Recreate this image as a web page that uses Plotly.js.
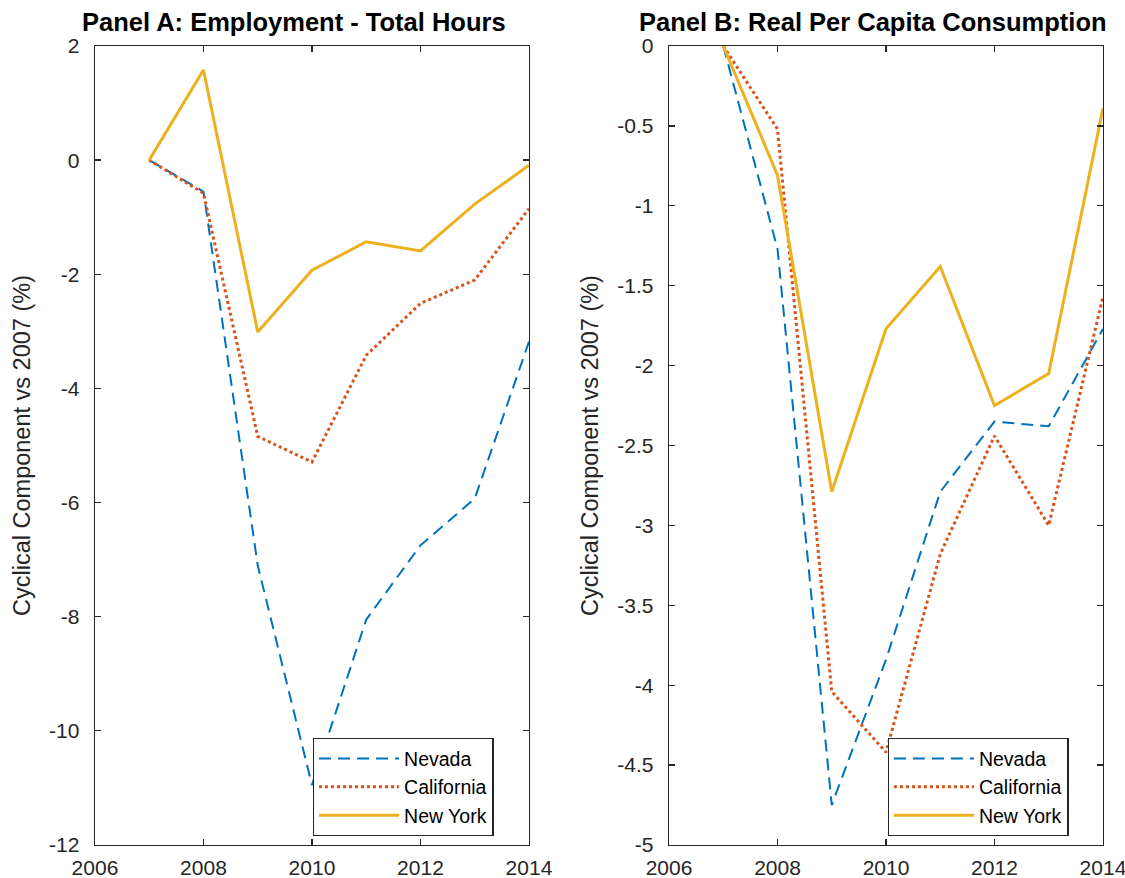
<!DOCTYPE html>
<html>
<head>
<meta charset="utf-8">
<script src="https://cdn.plot.ly/plotly-3.0.1.min.js"></script>
<style>html,body{margin:0;padding:0;background:#fff;}#chart{width:1125px;height:878px;}</style>
</head>
<body>
<div id="chart"></div>
<script>
const years = [2007, 2008, 2009, 2010, 2011, 2012, 2013, 2014];
const seriesNames = ["Nevada", "California", "New York"];

// Panel A: Employment - Total Hours (cyclical component vs 2007, %)
const hoursNevada     = [0, -0.55, -7.1, -10.95, -8.05, -6.75, -5.93, -3.18];
const hoursCalifornia = [0, -0.58, -4.84, -5.29, -3.42, -2.51, -2.10, -0.85];
const hoursNewYork    = [0, 1.58, -3.01, -1.93, -1.43, -1.59, -0.77, -0.09];

// Panel B: Real Per Capita Consumption (cyclical component vs 2007, %)
const consNevada     = [0, -1.27, -4.75, -3.84, -2.79, -2.35, -2.38, -1.77];
const consCalifornia = [0, -0.52, -4.04, -4.42, -3.18, -2.44, -3.00, -1.57];
const consNewYork    = [0, -0.81, -2.79, -1.77, -1.38, -2.25, -2.05, -0.39];

const panelTitles = ["Panel A: Employment - Total Hours", "Panel B: Real Per Capita Consumption"];
const yTitle = "Cyclical Component vs 2007 (%)";
const xTicks = [2006, 2008, 2010, 2012, 2014];
const yTicksA = [-12, -10, -8, -6, -4, -2, 0, 2];
const yTicksB = [-5, -4.5, -4, -3.5, -3, -2.5, -2, -1.5, -1, -0.5, 0];

const colors = ["#0072BD", "#D95319", "#EDB120"];
const dashes = ["12px,7px", "3px,3px", "solid"];
const FONT = "Liberation Sans, Arial, Helvetica, sans-serif";
const AX = "#262626";

function mk(y, i, xa, ya, lg) {
  return {x: years, y: y, name: seriesNames[i], type: "scatter", mode: "lines",
    xaxis: xa, yaxis: ya, legend: lg,
    line: {color: colors[i], width: i === 0 ? 2 : 3, dash: dashes[i]}};
}

const data = [
  mk(hoursNevada, 0, "x", "y", "legend"),
  mk(hoursCalifornia, 1, "x", "y", "legend"),
  mk(hoursNewYork, 2, "x", "y", "legend"),
  mk(consNevada, 0, "x2", "y2", "legend2"),
  mk(consCalifornia, 1, "x2", "y2", "legend2"),
  mk(consNewYork, 2, "x2", "y2", "legend2")
];

function xaxis(dom, anchor) {
  return {domain: dom, anchor: anchor, range: [2006, 2014], tickvals: xTicks,
    ticktext: xTicks.map(String), ticks: "inside", ticklen: 6, tickwidth: 1.3, tickcolor: AX,
    showline: true, linecolor: AX, linewidth: 1.3, mirror: "ticks", showgrid: false, zeroline: false,
    ticklabeloverflow: "allow", ticklabelstandoff: 4,
    tickfont: {family: FONT, size: 21, color: AX}};
}
function yaxis(dom, anchor, rng, tv) {
  return {domain: dom, anchor: anchor, range: rng, tickvals: tv, ticktext: tv.map(String),
    ticks: "inside", ticklen: 6, tickwidth: 1.3, tickcolor: AX,
    showline: true, linecolor: AX, linewidth: 1.3, mirror: "ticks", showgrid: false, zeroline: false,
    ticklabeloverflow: "allow", ticklabelstandoff: 10,
    tickfont: {family: FONT, size: 21, color: AX},
    title: {text: yTitle, font: {family: FONT, size: 23.5, color: AX}, standoff: 12}};
}

const legendBase = {bgcolor: "#ffffff", bordercolor: "#262626", borderwidth: 1.3,
  font: {family: FONT, size: 19.5, color: "#000"}, xanchor: "left", yanchor: "top",
  tracegroupgap: 0, itemwidth: 80};

const yDom = [0.0376, 0.9476];
const layout = {
  width: 1125, height: 878,
  margin: {l: 0, r: 0, t: 0, b: 0},
  paper_bgcolor: "#fff", plot_bgcolor: "#fff",
  showlegend: true,
  xaxis: xaxis([0.0844, 0.4702], "y"),
  yaxis: yaxis(yDom, "x", [-12, 2], yTicksA),
  xaxis2: xaxis([0.5947, 0.9804], "y2"),
  yaxis2: yaxis(yDom, "x2", [-5, 0], yTicksB),
  legend: Object.assign({}, legendBase, {x: 0.278, y: 0.1595}),
  legend2: Object.assign({}, legendBase, {x: 0.789, y: 0.1595}),
  annotations: [
    {text: "<b>" + panelTitles[0] + "</b>", xref: "paper", yref: "paper", x: 0.2613, y: 0.9565,
     xanchor: "center", yanchor: "bottom", showarrow: false, font: {family: FONT, size: 25.5, color: "#000"}},
    {text: "<b>" + panelTitles[1] + "</b>", xref: "paper", yref: "paper", x: 0.7764, y: 0.9565,
     xanchor: "center", yanchor: "bottom", showarrow: false, font: {family: FONT, size: 25.5, color: "#000"}}
  ]
};

Plotly.newPlot("chart", data, layout, {displayModeBar: false, staticPlot: true});
</script>
</body>
</html>
